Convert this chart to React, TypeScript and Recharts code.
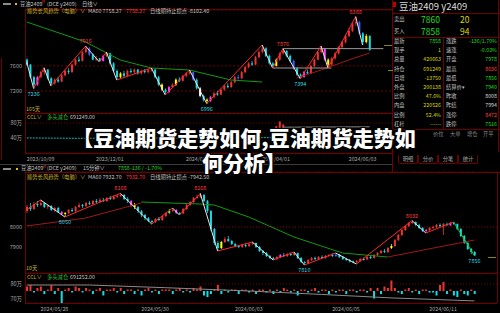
import React from 'react';
import { ComposedChart, Bar, Line, XAxis, YAxis, CartesianGrid, ReferenceLine, ReferenceDot } from 'recharts';

const FONT = "'Noto Sans CJK SC', 'Noto Sans', sans-serif";
const UP = '#f03232';
const DOWN = '#12dce6';
const FRAME = '#6e0000';
const AXIS_TXT = '#a8a8a8';
const GREEN = '#22dd22';
const YELLOW = '#d8d800';
const OLIVE = '#c8b428';

// ---- 日线 (top chart), [open, close, high, low] ----
const topOHLC: number[][] = [
  [7700, 7620, 7720, 7600], [7620, 7420, 7630, 7400], [7420, 7300, 7440, 7236], [7300, 7420, 7440, 7280],
  [7420, 7500, 7520, 7400], [7500, 7540, 7570, 7460], [7540, 7400, 7550, 7380], [7400, 7320, 7420, 7278],
  [7320, 7380, 7400, 7300], [7380, 7350, 7420, 7330], [7350, 7450, 7470, 7340], [7450, 7520, 7540, 7430],
  [7520, 7500, 7560, 7470], [7500, 7620, 7640, 7490], [7620, 7700, 7720, 7600], [7700, 7680, 7750, 7660],
  [7680, 7820, 7840, 7670], [7820, 7880, 7916, 7800], [7880, 7780, 7900, 7760], [7780, 7700, 7800, 7690],
  [7700, 7720, 7760, 7680], [7720, 7680, 7730, 7662], [7680, 7760, 7780, 7670], [7760, 7800, 7822, 7740],
  [7800, 7640, 7810, 7620], [7640, 7520, 7660, 7500], [7520, 7420, 7540, 7374], [7420, 7480, 7500, 7400],
  [7480, 7440, 7520, 7420], [7440, 7520, 7540, 7430], [7520, 7500, 7560, 7480], [7500, 7540, 7560, 7470],
  [7540, 7480, 7550, 7460], [7480, 7520, 7540, 7460], [7520, 7500, 7550, 7480], [7500, 7530, 7550, 7480],
  [7530, 7540, 7566, 7510], [7540, 7420, 7550, 7400], [7420, 7300, 7440, 7280], [7300, 7220, 7320, 7200],
  [7220, 7180, 7240, 7134], [7180, 7260, 7280, 7160], [7260, 7300, 7320, 7240], [7300, 7380, 7400, 7280],
  [7380, 7360, 7420, 7340], [7360, 7440, 7460, 7350], [7440, 7480, 7500, 7420], [7480, 7500, 7534, 7460],
  [7500, 7380, 7510, 7360], [7380, 7240, 7400, 7220], [7240, 7120, 7260, 7100], [7120, 7060, 7140, 7030],
  [7060, 7040, 7080, 6996], [7040, 7100, 7120, 7020], [7100, 7160, 7180, 7080], [7160, 7140, 7200, 7120],
  [7140, 7220, 7240, 7130], [7220, 7280, 7300, 7200], [7280, 7260, 7320, 7240], [7260, 7340, 7360, 7250],
  [7340, 7420, 7440, 7320], [7420, 7400, 7460, 7380], [7400, 7500, 7520, 7390], [7500, 7580, 7600, 7480],
  [7580, 7640, 7660, 7560], [7640, 7620, 7680, 7600], [7620, 7740, 7760, 7610], [7740, 7820, 7850, 7720],
  [7820, 7880, 7934, 7800], [7880, 7760, 7900, 7740], [7760, 7640, 7780, 7620], [7640, 7600, 7660, 7566],
  [7600, 7700, 7720, 7590], [7700, 7800, 7820, 7680], [7800, 7840, 7876, 7780], [7840, 7760, 7850, 7740],
  [7760, 7680, 7780, 7660], [7680, 7560, 7700, 7540], [7560, 7460, 7580, 7440], [7460, 7420, 7480, 7394],
  [7420, 7500, 7520, 7410], [7500, 7480, 7540, 7460], [7480, 7600, 7620, 7470], [7600, 7700, 7720, 7580],
  [7700, 7820, 7840, 7690], [7820, 7880, 7918, 7800], [7880, 7700, 7890, 7680], [7700, 7620, 7720, 7566],
  [7620, 7720, 7740, 7600], [7720, 7800, 7820, 7700], [7800, 7900, 7920, 7780], [7900, 7980, 8000, 7880],
  [7980, 8080, 8100, 7960], [8080, 8160, 8200, 8060], [8160, 8280, 8300, 8140], [8280, 8300, 8388, 8240],
  [8300, 8120, 8320, 8100], [8120, 7980, 8140, 7934], [7980, 8080, 8110, 7960], [8080, 7858, 8090, 7840],
];
const topPivotIdx = [0, 2, 5, 7, 17, 21, 23, 26, 36, 40, 47, 52, 68, 71, 74, 79, 85, 87, 95, 97];
const topPivotPx = [7662, 7236, 7570, 7278, 7916, 7662, 7822, 7374, 7566, 7134, 7534, 6996, 7934, 7566, 7876, 7394, 7918, 7566, 8388, 7934];
const topPivotTags = [2, 17, 52, 74, 79, 95];
const topMaGreenIdx = [0, 17, 27, 36, 47, 59, 68];
const topMaGreen = [8302, 7982, 7694, 7566, 7534, 7374, 7342];
const topMaRedIdx = [78, 85, 93, 99];
const topMaRed = [7406, 7534, 7694, 7806];
const topBoxFrom = [74, 71];
const topBoxTo = [103, 88];
const topBoxPx = [7876, 7566];
const topCclIdx = [0, 15, 30, 45, 60, 72];
const topCcl = [41, 40, 41, 40, 41, 42];
const topCcl2Idx = [74, 86, 99];
const topCcl2 = [69, 69.5, 70];
const topJumpIdx = [72, 73, 74];
const topJumpLo = [46, 52, 60];
const topJumpHi = [72, 84, 76];
const topPriceTicks = [7200, 7600];
const topCclTicks = [20, 40, 60, 80];
const topDateIdx = [0, 20, 46, 68, 93];
const topDateLabels = ['2023/10/09', '2023/12/01', '2024/02/01', '2024/04/01', '2024/06/03'];
const topTint: Record<number, string> = {
  3: '#ff40ff', 18: '#4060ff', 22: '#ff40ff', 27: '#ffff00', 39: '#ffff00', 41: '#ff40ff', 43: '#ffff00',
  48: '#4060ff', 50: '#ffffff', 52: '#ffff00', 53: '#ff40ff', 61: '#4060ff', 72: '#ffff00', 77: '#4060ff',
  80: '#ff40ff', 86: '#ff40ff', 87: '#ffff00', 96: '#4060ff', 98: '#ffff00',
};

// ---- 15分钟 (bottom chart), [open, close, high, low] ----
const botOHLC: number[][] = [
  [8080, 8100, 8110, 8070], [8100, 8090, 8120, 8080], [8090, 8115, 8125, 8085], [8115, 8110, 8130, 8100],
  [8110, 8120, 8135, 8105], [8120, 8100, 8125, 8095], [8100, 8105, 8115, 8090], [8105, 8085, 8110, 8080],
  [8085, 8095, 8100, 8075], [8095, 8075, 8100, 8070], [8075, 8065, 8080, 8060], [8065, 8070, 8075, 8050],
  [8070, 8085, 8090, 8065], [8085, 8080, 8095, 8075], [8080, 8100, 8105, 8075], [8100, 8110, 8120, 8095],
  [8110, 8105, 8115, 8095], [8105, 8120, 8125, 8100], [8120, 8115, 8130, 8110], [8115, 8130, 8135, 8110],
  [8130, 8125, 8140, 8120], [8125, 8135, 8145, 8120], [8135, 8130, 8145, 8125], [8130, 8145, 8150, 8125],
  [8145, 8140, 8155, 8135], [8140, 8150, 8160, 8135], [8150, 8155, 8162, 8145], [8155, 8160, 8168, 8150],
  [8160, 8140, 8165, 8135], [8140, 8130, 8150, 8120], [8130, 8110, 8135, 8100], [8110, 8100, 8120, 8090],
  [8100, 8080, 8105, 8070], [8080, 8060, 8085, 8050], [8060, 8045, 8065, 8035], [8045, 8030, 8050, 8025],
  [8030, 8025, 8035, 8015], [8025, 8040, 8045, 8020], [8040, 8035, 8050, 8030], [8035, 8055, 8060, 8030],
  [8055, 8070, 8075, 8050], [8070, 8080, 8090, 8065], [8080, 8085, 8095, 8075], [8085, 8070, 8090, 8065],
  [8070, 8068, 8075, 8060], [8068, 8090, 8095, 8065], [8090, 8110, 8115, 8085], [8110, 8125, 8130, 8105],
  [8125, 8145, 8150, 8120], [8145, 8150, 8160, 8140], [8150, 8160, 8168, 8145], [8160, 8130, 8165, 8125],
  [8130, 8080, 8135, 8070], [8080, 7990, 8085, 7980], [7990, 7920, 7995, 7910], [7920, 7895, 7930, 7880],
  [7895, 7925, 7930, 7890], [7925, 7940, 7950, 7920], [7940, 7930, 7955, 7925], [7930, 7915, 7935, 7910],
  [7915, 7905, 7920, 7900], [7905, 7900, 7910, 7895], [7900, 7910, 7915, 7895], [7910, 7905, 7915, 7898],
  [7905, 7915, 7920, 7900], [7915, 7920, 7925, 7910], [7920, 7900, 7922, 7895], [7900, 7880, 7905, 7875],
  [7880, 7870, 7885, 7860], [7870, 7855, 7875, 7850], [7855, 7845, 7860, 7840], [7845, 7840, 7850, 7835],
  [7840, 7850, 7855, 7835], [7850, 7860, 7865, 7845], [7860, 7855, 7870, 7850], [7855, 7865, 7870, 7850],
  [7865, 7860, 7872, 7855], [7860, 7870, 7875, 7855], [7870, 7845, 7872, 7840], [7845, 7825, 7850, 7820],
  [7825, 7820, 7830, 7810], [7820, 7835, 7840, 7815], [7835, 7845, 7850, 7830], [7845, 7840, 7852, 7835],
  [7840, 7850, 7855, 7835], [7850, 7845, 7858, 7840], [7845, 7855, 7860, 7840], [7855, 7860, 7865, 7850],
  [7860, 7855, 7868, 7850], [7855, 7862, 7870, 7850], [7862, 7850, 7865, 7845], [7850, 7840, 7855, 7835],
  [7840, 7835, 7845, 7830], [7835, 7828, 7840, 7822], [7828, 7825, 7832, 7818], [7825, 7830, 7835, 7815],
  [7830, 7840, 7845, 7825], [7840, 7838, 7848, 7832], [7838, 7850, 7855, 7835], [7850, 7845, 7858, 7840],
  [7845, 7860, 7865, 7842], [7860, 7870, 7875, 7855], [7870, 7880, 7885, 7865], [7880, 7875, 7890, 7870],
  [7875, 7895, 7900, 7870], [7895, 7905, 7915, 7890], [7905, 7935, 7940, 7900], [7935, 7960, 7965, 7930],
  [7960, 7985, 7990, 7955], [7985, 8005, 8010, 7980], [8005, 8020, 8025, 8000], [8020, 8025, 8032, 8015],
  [8025, 8010, 8028, 8005], [8010, 7995, 8015, 7990], [7995, 7980, 8000, 7975], [7980, 7985, 7990, 7970],
  [7985, 7995, 8000, 7980], [7995, 8000, 8008, 7990], [8000, 8010, 8015, 7995], [8010, 8005, 8018, 8000],
  [8005, 8015, 8020, 7960], [8015, 8010, 8022, 8005], [8010, 8020, 8024, 8005], [8020, 8015, 8025, 8010],
  [8015, 7990, 8018, 7985], [7990, 7955, 7995, 7950], [7955, 7920, 7960, 7915], [7920, 7890, 7925, 7885],
  [7890, 7875, 7895, 7865], [7875, 7858, 7880, 7856],
];
const botPivotIdx = [0, 4, 11, 27, 36, 42, 44, 50, 55, 65, 71, 77, 80, 89, 95, 111, 115, 123, 129];
const botPivotPx = [8085, 8135, 8050, 8168, 8015, 8095, 8060, 8168, 7880, 7925, 7835, 7875, 7810, 7870, 7815, 8032, 7970, 8025, 7856];
const botPivotTags = [11, 27, 50, 80, 111, 129];
const botMaRed1Idx = [0, 17, 33];
const botMaRed1 = [8005, 8045, 8120];
const botMaGreenIdx = [33, 50, 54, 64, 77, 91, 104];
const botMaGreen = [8125, 8115, 8110, 8050, 7950, 7870, 7850];
const botMaRed2Idx = [104, 129];
const botMaRed2 = [7850, 7935];
const botCclIdx = [0, 18, 40, 64, 85, 105, 129];
const botCcl = [79.3, 79.3, 77.5, 75.3, 73, 70.7, 68.7];
const BOT_OI_BASE = 75.3;
const botOiDelta = [
  3, 4, -1, 2, 3, -2, 1, 4, -2, 2,
  -8, 1, 2, -1, 3, 2, -1, 2, 1, -2,
  1, 2, -3, 1, 1, 2, -1, 2, -2, 1,
  1, -2, 1, -3, 1, 2, -1, 1, -2, 1,
  1, 1, -2, 1, 2, -1, 1, -1, 2, 1,
  3, -3, -4, -2, 1, 4, -2, 1, -1, 1,
  1, -2, 1, 1, -1, 1, -2, 1, 1, -1,
  1, -2, 1, -1, 2, 1, -1, 1, -3, 1,
  1, -1, 1, 2, -1, 1, 1, -2, 1, -1,
  1, 1, -2, 1, 1, -1, 1, 1, -1, 2,
  -5, 2, -2, 3, 2, 7, 2, -1, -2, 1,
  2, -1, 1, -2, 1, 1, -1, -1, -3, 4,
  6, -2, 1, -3, -4, 1, -2, -3, 1, -2,
];
const botPriceTicks = [7900, 8000];
const botCclTicks = [70, 75, 80];
const botDateIdx = [4, 33, 60, 88, 116];
const botDateLabels = ['2024/05/28', '2024/05/30', '2024/06/03', '2024/06/05', '2024/06/11'];
const botTint: Record<number, string> = {
  10: '#ff40ff', 11: '#ffff00', 30: '#ff40ff', 31: '#ffff00', 41: '#40ff40', 43: '#ff40ff', 56: '#ffff00',
  73: '#ff40ff', 89: '#4060ff', 105: '#ffff00', 115: '#ff40ff', 122: '#ff40ff',
};

// quote board
const quoteLeftLabels = ['最新', '现手', '总量', '持仓', '日增', '外盘', '比例', '内盘', '比例', '杠杆'];
const quoteLeftValues = ['7858', '1', '420663', '691249', '-13750', '200138', '47.6%', '220526', '52.4%', '------'];
const quoteRightLabels = ['涨跌', '速涨', '开盘', '最高', '最低', '结算价▾', '昨收', '昨结', '涨停', '跌停'];
const quoteRightValues = ['-136/1.70%', '-0.03%', '7978', '8036', '7856', '7940', '8008', '7994', '8472', '7516'];
const quoteRightColors = [GREEN, GREEN, GREEN, '#ff4040', GREEN, GREEN, '#d8d8d8', '#d8d8d8', '#ff4040', GREEN];

const TOP_SLOTS = 106;
const BOT_SLOTS = 136;

function buildRows(ohlc: number[][], slots: number, tint: Record<number, string>) {
  const rows: any[] = [];
  for (let i = 0; i < slots; i++) {
    const k = ohlc[i];
    rows.push(k ? { i, o: k[0], c: k[1], h: k[2], l: k[3], hl: [k[3], k[2]], tint: tint[i] } : { i });
  }
  return rows;
}
function setSparse(rows: any[], key: string, idx: number[], vals: number[]) {
  idx.forEach((ix, j) => { rows[ix][key] = vals[j]; });
}

const topRows = buildRows(topOHLC, TOP_SLOTS, topTint);
setSparse(topRows, 'maG', topMaGreenIdx, topMaGreen);
setSparse(topRows, 'maR', topMaRedIdx, topMaRed);
setSparse(topRows, 'ccl', topCclIdx, topCcl);
setSparse(topRows, 'ccl2', topCcl2Idx, topCcl2);
topJumpIdx.forEach((ix, j) => { topRows[ix].oi = [topJumpLo[j], topJumpHi[j]]; topRows[ix].d = 1; });

const botRows = buildRows(botOHLC, BOT_SLOTS, botTint);
setSparse(botRows, 'maR1', botMaRed1Idx, botMaRed1);
setSparse(botRows, 'maG', botMaGreenIdx, botMaGreen);
setSparse(botRows, 'maR2', botMaRed2Idx, botMaRed2);
setSparse(botRows, 'ccl', botCclIdx, botCcl);
botOiDelta.forEach((d, ix) => {
  botRows[ix].oi = [Math.min(BOT_OI_BASE, BOT_OI_BASE + d), Math.max(BOT_OI_BASE, BOT_OI_BASE + d)];
  botRows[ix].d = d;
});

const Candle = (p: any) => {
  const { x, y, width, height, payload } = p;
  if (!payload || payload.h == null) return <g />;
  const top = Math.min(y, y + height);
  const bot = Math.max(y, y + height);
  const { o, c, h, l } = payload;
  const k = h > l ? (bot - top) / (h - l) : 0;
  const yOf = (v: number) => top + (h - v) * k;
  const col = payload.tint || (c >= o ? UP : DOWN);
  const b1 = yOf(Math.max(o, c));
  const b2 = yOf(Math.min(o, c));
  const cx = x + width / 2;
  return (
    <g>
      <line x1={cx} x2={cx} y1={top} y2={bot} stroke={col} strokeWidth={0.8} />
      <rect x={x} y={b1} width={width} height={Math.max(1, b2 - b1)} fill={col} />
    </g>
  );
};

const OiBar = (p: any) => {
  const { x, y, width, height, payload } = p;
  if (!payload || payload.oi == null) return <g />;
  const top = Math.min(y, y + height);
  return <rect x={x} y={top} width={width} height={Math.max(0.8, Math.abs(height))} fill={payload.d >= 0 ? UP : DOWN} />;
};

const makeDateTick = (idx: number[], labels: string[]) => (p: any) => {
  const k = idx.indexOf(Number(p.payload?.value));
  if (k < 0) return <g />;
  return (
    <text x={p.x} y={p.y + 8} fontSize={5.3} fill={AXIS_TXT} fontFamily={FONT}>{labels[k]}</text>
  );
};

const zigzag = (idx: number[], px: number[], lastColor?: string) =>
  idx.slice(1).map((ix, j) => {
    let col = px[j + 1] > px[j] ? '#ff2a2a' : '#e6e6e6';
    if (lastColor && j === idx.length - 2) col = lastColor;
    return (
      <ReferenceLine key={'z' + j} segment={[{ x: idx[j], y: px[j] }, { x: ix, y: px[j + 1] }]}
        stroke={col} strokeWidth={1} ifOverflow="visible" />
    );
  });

const pivotTags = (idx: number[], px: number[], tags: number[]) =>
  tags.map((ix) => {
    const j = idx.indexOf(ix);
    const v = px[j];
    const high = (j > 0 ? px[j - 1] : px[j + 1]) < v;
    return (
      <ReferenceDot key={'t' + ix} x={ix} y={v} r={0} fill="none" stroke="none" ifOverflow="visible"
        label={{ value: String(v), position: high ? 'top' : 'bottom', fill: high ? '#ff4040' : '#30d8e0', fontSize: 5.5, offset: 3 }} />
    );
  });

const yTick = { fill: AXIS_TXT, fontSize: 5.5, fontFamily: FONT };

const Txt = ({ x, y, s = 5.3, c = '#c4c4c4', right, children }: any) => (
  <div style={{
    position: 'absolute', top: y - s * 0.7, left: right ? undefined : x, right: right ? 500 - x : undefined,
    fontSize: s, lineHeight: `${s * 1.4}px`, color: c, whiteSpace: 'nowrap', fontFamily: FONT,
  }}>{children}</div>
);
const HL = ({ x1, x2, y, c = FRAME }: any) => (
  <div style={{ position: 'absolute', left: x1, top: y, width: x2 - x1, height: 1, background: c }} />
);
const VL = ({ x, y1, y2, c = FRAME }: any) => (
  <div style={{ position: 'absolute', left: x, top: y1, width: 1, height: y2 - y1, background: c }} />
);
const Box = ({ x, y, w, h, c }: any) => (
  <div style={{ position: 'absolute', left: x, top: y, width: w, height: h, background: c }} />
);

const rowY = (k: number) => 41.7 + 9.2 * k;

export default function App() {
  return (
    <div style={{ position: 'absolute', left: 0, top: 0, width: 500, height: 313, background: '#000', overflow: 'hidden', fontFamily: FONT }}>
      {/* top daily chart: plot spans y 10..113 */}
      <div style={{ position: 'absolute', left: 0, top: 0 }}>
        <ComposedChart width={392} height={113} data={topRows} margin={{ top: 10, right: 0, bottom: 0, left: 0 }}>
          <CartesianGrid vertical={false} stroke={FRAME} strokeDasharray="2 2" />
          <XAxis dataKey="i" type="category" hide />
          <YAxis domain={[6846, 8494]} ticks={topPriceTicks} width={25} axisLine={false} tickLine={false}
            tickSize={0} tickMargin={3} tick={yTick} allowDataOverflow />
          <Bar dataKey="hl" barSize={2} shape={(p: any) => <Candle {...p} />} isAnimationActive={false} />
          <Line dataKey="maG" stroke="#129a12" dot={false} connectNulls strokeWidth={1} isAnimationActive={false} />
          <Line dataKey="maR" stroke="#a01818" dot={false} connectNulls strokeWidth={1} isAnimationActive={false} />
          {topBoxPx.map((v, j) => (
            <ReferenceLine key={'b' + j} segment={[{ x: topBoxFrom[j], y: v }, { x: topBoxTo[j], y: v }]}
              stroke="#9a9a9a" ifOverflow="visible" />
          ))}
          {zigzag(topPivotIdx, topPivotPx)}
          {pivotTags(topPivotIdx, topPivotPx, topPivotTags)}
        </ComposedChart>
      </div>
      <div style={{ position: 'absolute', left: 0, top: 113 }}>
        <ComposedChart width={392} height={50} data={topRows} margin={{ top: 0, right: 0, bottom: 0, left: 0 }}>
          <CartesianGrid vertical={false} stroke={FRAME} strokeDasharray="1 2" />
          <XAxis dataKey="i" type="category" interval={0} height={10} axisLine={false} tickLine={false}
            tickSize={0} tickMargin={0} tick={makeDateTick(topDateIdx, topDateLabels)} />
          <YAxis domain={[1.7, 106]} ticks={topCclTicks} width={25} axisLine={false} tickLine={false}
            tickSize={0} tickMargin={3} tick={yTick} tickFormatter={(v: number) => v + '万'} allowDataOverflow />
          <Bar dataKey="oi" barSize={2} shape={(p: any) => <OiBar {...p} />} isAnimationActive={false} />
          <Line dataKey="ccl" stroke="#1fb5b5" strokeDasharray="2 1" dot={false} connectNulls isAnimationActive={false} />
          <Line dataKey="ccl2" stroke="#8a8a8a" dot={false} connectNulls isAnimationActive={false} />
        </ComposedChart>
      </div>

      {/* bottom 15-minute chart: plot spans y 172..273 */}
      <div style={{ position: 'absolute', left: 0, top: 162 }}>
        <ComposedChart width={497} height={111} data={botRows} margin={{ top: 10, right: 0, bottom: 0, left: 0 }}>
          <CartesianGrid vertical={false} stroke="#8a0000" strokeDasharray="1 2" />
          <XAxis dataKey="i" type="category" hide />
          <YAxis domain={[7770, 8275]} ticks={botPriceTicks} width={25} axisLine={false} tickLine={false}
            tickSize={0} tickMargin={3} tick={yTick} allowDataOverflow />
          <Bar dataKey="hl" barSize={2} shape={(p: any) => <Candle {...p} />} isAnimationActive={false} />
          <Line dataKey="maR1" stroke="#a01818" dot={false} connectNulls strokeWidth={1} isAnimationActive={false} />
          <Line dataKey="maG" stroke="#129a12" dot={false} connectNulls strokeWidth={1} isAnimationActive={false} />
          <Line dataKey="maR2" stroke="#a01818" dot={false} connectNulls strokeWidth={1} isAnimationActive={false} />
          {zigzag(botPivotIdx, botPivotPx, '#22cc22')}
          {pivotTags(botPivotIdx, botPivotPx, botPivotTags)}
        </ComposedChart>
      </div>
      <div style={{ position: 'absolute', left: 0, top: 273 }}>
        <ComposedChart width={497} height={40} data={botRows} margin={{ top: 0, right: 0, bottom: 0, left: 0 }}>
          <CartesianGrid vertical={false} stroke={FRAME} strokeDasharray="1 2" />
          <XAxis dataKey="i" type="category" interval={0} height={10} axisLine={false} tickLine={false}
            tickSize={0} tickMargin={0} tick={makeDateTick(botDateIdx, botDateLabels)} />
          <YAxis domain={[67.3, 87.3]} ticks={botCclTicks} width={25} axisLine={false} tickLine={false}
            tickSize={0} tickMargin={3} tick={yTick} tickFormatter={(v: number) => v + '万'} allowDataOverflow />
          <Bar dataKey="oi" barSize={2} shape={(p: any) => <OiBar {...p} />} isAnimationActive={false} />
          <Line dataKey="ccl" stroke="#8a8a8a" dot={false} connectNulls isAnimationActive={false} />
        </ComposedChart>
      </div>

      {/* frames */}
      <HL x1={25} x2={392} y={9} />
      <VL x={25} y1={9} y2={154} />
      <HL x1={25} x2={392} y={113} />
      <HL x1={25} x2={392} y={153} />
      <VL x={392} y1={0} y2={172} />
      <VL x={1} y1={58} y2={160} />
      <HL x1={392} x2={500} y={13} />
      <HL x1={392} x2={500} y={37} />
      <VL x={443} y1={37} y2={129} />
      <HL x1={392} x2={500} y={129} />
      <VL x={498} y1={0} y2={152} />
      <HL x1={0} x2={392} y={164} c="#3c3c3c" />
      <HL x1={25} x2={500} y={172} />
      <VL x={25} y1={172} y2={303} />
      <HL x1={25} x2={497} y={273} />
      <HL x1={25} x2={497} y={303} />
      <VL x={497} y1={172} y2={303} />
      <Box x={384} y={45} w={8} h={1} c="#8a8a00" />
      <Box x={388} y={70} w={5} h={1} c="#8a8a00" />
      <Box x={488} y={257} w={8} h={1} c="#8a8a00" />

      {/* top headers */}
      <Box x={3} y={3} w={8} h={2} c="#8c8c8c" />
      <Box x={15} y={3} w={2} h={2} c="#e0c000" />
      <Txt x={20} y={4.5}>豆油2409</Txt>
      <Txt x={42} y={2.5} s={3.5} c="#e03030">M</Txt>
      <Txt x={47} y={4.5}>(DCE  y2409)</Txt>
      <Txt x={82} y={4.5}>日线∨</Txt>
      <Txt x={27} y={11.5} c={OLIVE}>顺势长风趋势（电脑）∨</Txt>
      <Txt x={88} y={11.5}>MA60 7758.37</Txt>
      <Txt x={126} y={11.5} c="#ff3c3c">7758.37</Txt>
      <Txt x={150} y={11.5}>日线期持止损点 -8102.40</Txt>
      <Txt x={26} y={110} c={OLIVE}>165天</Txt>
      <Txt x={27} y={117.5} c={OLIVE}>CCL∨</Txt>
      <Txt x={47} y={117.5} c="#2fb02f">多头减仓</Txt>
      <Txt x={70} y={117.5}>691249.00</Txt>

      {/* quote board */}
      <Box x={393} y={2} w={3} h={5} c="#c00000" />
      <Txt x={399} y={7} s={9.5} c="#d8d8d8">豆油2409 y2409</Txt>
      <Txt x={394} y={20}>卖出</Txt>
      <Txt x={421} y={20} s={8.5} c={GREEN}>7860</Txt>
      <Txt x={460} y={20} s={8.5} c={YELLOW}>20</Txt>
      <Txt x={394} y={32}>买入</Txt>
      <Txt x={421} y={32} s={8.5} c={GREEN}>7858</Txt>
      <Txt x={460} y={32} s={8.5} c={YELLOW}>94</Txt>
      {quoteLeftLabels.map((t, k) => <Txt key={'ll' + k} x={394} y={rowY(k)}>{t}</Txt>)}
      {quoteLeftValues.map((t, k) => <Txt key={'lv' + k} x={441} y={rowY(k)} right c={k === 0 ? GREEN : YELLOW}>{t}</Txt>)}
      {quoteRightLabels.map((t, k) => <Txt key={'rl' + k} x={446} y={rowY(k)}>{t}</Txt>)}
      {quoteRightValues.map((t, k) => <Txt key={'rv' + k} x={497} y={rowY(k)} right c={quoteRightColors[k]}>{t}</Txt>)}
      <Txt x={433} y={135} c="#8a8a8a">价位</Txt>
      <Txt x={450} y={135} c="#8a8a8a">大单</Txt>
      <Txt x={467} y={135} c="#8a8a8a">增仓</Txt>
      <Txt x={483} y={135} c="#8a8a8a">开平</Txt>
      {['明细', '分价', '分笔', '统计'].map((t, k) => (
        <div key={'tab' + k} style={{
          position: 'absolute', left: 398 + k * 20, top: 155, width: 18, height: 8, border: `1px solid ${FRAME}`,
          borderTop: 'none', borderRadius: '0 0 2px 2px', fontSize: 5.3, lineHeight: '8px', color: '#a0a0a0',
          textAlign: 'center', fontFamily: FONT,
        }}>{t}</div>
      ))}

      {/* bottom headers */}
      <Box x={3} y={168} w={8} h={2} c="#8c8c8c" />
      <Box x={16} y={168} w={2} h={2} c="#e0c000" />
      <Txt x={21} y={169}>豆油2409</Txt>
      <Txt x={43} y={167} s={3.5} c="#e03030">M</Txt>
      <Txt x={47} y={169}>(DCE  y2409)</Txt>
      <Txt x={83} y={169}>15分钟∨</Txt>
      <Txt x={118} y={169} c={GREEN}>7858</Txt>
      <Txt x={130} y={169} c={GREEN}>-136 / -1.70%</Txt>
      <Txt x={27} y={178} c={OLIVE}>顺势长风趋势（电脑）∨</Txt>
      <Txt x={88} y={178}>MA60 7932.70</Txt>
      <Txt x={126} y={178} c="#ff3c3c">7932.70</Txt>
      <Txt x={150} y={178}>日线期持止损点 -7942.50</Txt>
      <Txt x={26} y={268.5} c={OLIVE}>10天</Txt>
      <Txt x={27} y={277.5} c={OLIVE}>CCL∨</Txt>
      <Txt x={47} y={277.5} c="#2fb02f">多头减仓</Txt>
      <Txt x={70} y={277.5}>691252.00</Txt>

      {/* title overlay */}
      <div style={{
        position: 'absolute', left: 44, top: 125, width: 400, textAlign: 'center', color: '#fff',
        fontSize: 21, fontWeight: 900, lineHeight: '25px', fontFamily: FONT, whiteSpace: 'nowrap',
        textShadow: '-1px -1px 0 #000, 1px -1px 0 #000, -1px 1px 0 #000, 1px 1px 0 #000, 0 0 3px #000',
      }}>
        【豆油期货走势如何,豆油期货走势如<br />何分析】
      </div>
    </div>
  );
}
